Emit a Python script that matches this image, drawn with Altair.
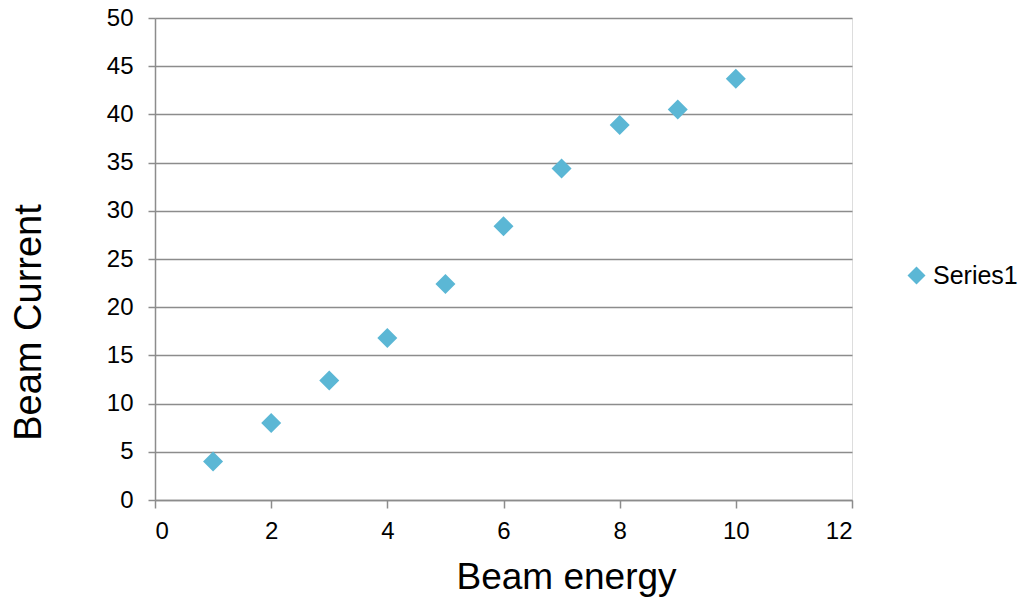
import altair as alt
import pandas as pd

beam_energy = [1, 2, 3, 4, 5, 6, 7, 8, 9, 10]
beam_current = [4.0, 8.0, 12.4, 16.8, 22.4, 28.4, 34.4, 38.9, 40.5, 43.7]
series = ["Series1"] * len(beam_energy)

df = pd.DataFrame({"energy": beam_energy, "current": beam_current, "series": series})

FONT = "Liberation Sans"
GRID = "#8c8c8c"

chart = alt.Chart(df).mark_point(shape="diamond", filled=True, size=400, opacity=1).encode(
    x=alt.X("energy:Q",
            scale=alt.Scale(domain=[0, 12], nice=False),
            axis=alt.Axis(values=[0, 2, 4, 6, 8, 10, 12], title="Beam energy", grid=False,
                          domainColor=GRID, domainWidth=1.5, tickColor=GRID, tickWidth=1.5, tickSize=8,
                          labelFontSize=24, labelFont=FONT, labelColor="#000", labelPadding=11,
                          titleFont=FONT, titleFontSize=37, titleFontWeight="normal", titleColor="#000",
                          titleX=411, titleY=88, titleBaseline="alphabetic")),
    y=alt.Y("current:Q",
            scale=alt.Scale(domain=[0, 50], nice=False),
            axis=alt.Axis(values=list(range(0, 51, 5)), title="Beam Current", grid=True,
                          gridColor=GRID, gridWidth=1.5,
                          domainColor=GRID, domainWidth=1.5, tickColor=GRID, tickWidth=1.5, tickSize=7,
                          labelFontSize=24, labelFont=FONT, labelColor="#000", labelPadding=15,
                          titleFont=FONT, titleFontSize=38, titleFontWeight="normal", titleColor="#000",
                          titleX=-115, titleY=304, titleBaseline="alphabetic")),
    color=alt.Color("series:N", scale=alt.Scale(range=["#5BB7D5"]),
                    legend=alt.Legend(title=None, orient="none", legendX=749, legendY=245,
                                      symbolType="diamond", symbolSize=324, symbolStrokeWidth=0,
                                      labelFont=FONT, labelFontSize=25, labelColor="#000",
                                      labelOffset=4, padding=0)),
).properties(
    width=697, height=482,
    autosize=alt.AutoSizeParams(type="none"),
    padding={"left": 155, "top": 18, "right": 167, "bottom": 106},
).configure_view(stroke=None).configure(background="white")

chart.save("out.html", embed_options={"renderer": "svg", "actions": False})
